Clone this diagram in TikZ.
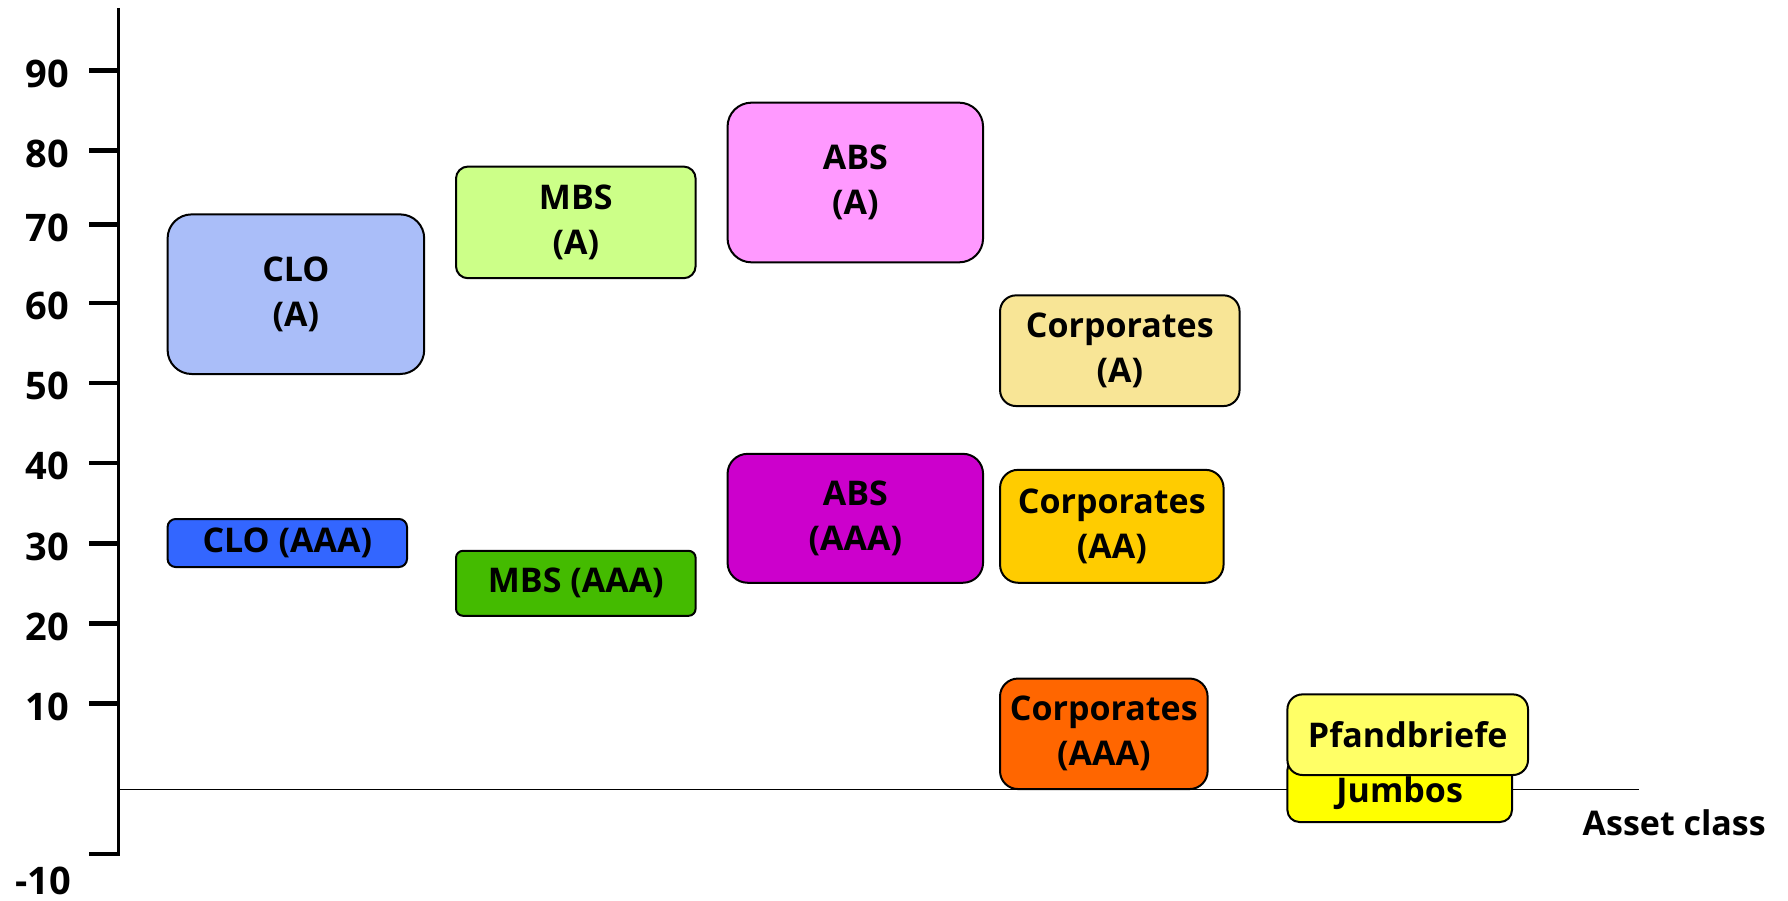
\documentclass[tikz,border=0pt]{standalone}
\usepackage{fontspec}
\setmainfont{Open Sans}
\begin{document}
\begin{tikzpicture}[x=1pt,y=-1pt,
  cls/.style={draw=black, line width=2, inner sep=0pt, align=center,
    font=\fontsize{34}{45}\selectfont\bfseries},
  tick/.style={line width=4.5},
  ylab/.style={anchor=east, inner sep=0pt, font=\fontsize{38}{40}\selectfont\bfseries}]
\useasboundingbox (0,0) rectangle (1788,901);

% axes
\coordinate (top) at (118.6,8);
\coordinate (bot) at (118.6,856);
\coordinate (z0) at (118.6,789.5);
\coordinate (zend) at (1639,789.5);
\draw[line width=1.6] (z0) -- (zend);
\draw[line width=3.2] (top) -- (bot);

% ticks and their values
\foreach \v/\y in {90/70.7, 80/150.5, 70/224.6, 60/303, 50/383, 40/463, 30/543.5, 20/623.5, 10/703.6}{
  \coordinate (t\v) at (118.6,\y);
  \draw[tick] (89,\y) -- (t\v);
  \node[ylab] (l\v) at (69,\y+3) {\v};
}
\coordinate (tm10) at (118.6,854);
\draw[tick] (89,854) -- (tm10);
\node[ylab] (lm10) at (71,881) {-10};

\node[anchor=east, inner sep=0pt, font=\fontsize{34}{36}\selectfont\bfseries] (ac) at (1766,823) {Asset class};

% asset classes
\node[cls, fill={rgb,255:red,170;green,190;blue,249}, rounded corners=24, minimum width=256.6, minimum height=159.6] (cloA) at (295.9,294.2) {CLO\\(A)};
\node[cls, fill={rgb,255:red,51;green,102;blue,255}, rounded corners=8, minimum width=239.4, minimum height=48] (cloAAA) at (287.3,543) {CLO (AAA)};
\node[cls, fill={rgb,255:red,204;green,255;blue,136}, rounded corners=12, minimum width=239.6, minimum height=111.7] (mbsA) at (575.8,222.4) {MBS\\(A)};
\node[cls, fill={rgb,255:red,68;green,187;blue,0}, rounded corners=7, minimum width=239.6, minimum height=65] (mbsAAA) at (575.8,583.3) {MBS (AAA)};
\node[cls, fill={rgb,255:red,255;green,153;blue,255}, rounded corners=24, minimum width=255.5, minimum height=159.7] (absA) at (855.3,182.5) {ABS\\(A)};
\node[cls, fill={rgb,255:red,204;green,0;blue,204}, rounded corners=20, minimum width=255.5, minimum height=128.9] (absAAA) at (855.3,518.3) {ABS\\(AAA)};
\node[cls, fill={rgb,255:red,248;green,229;blue,150}, rounded corners=16, minimum width=239.5, minimum height=110.7] (corpA) at (1119.8,350.7) {Corporates\\(A)};
\node[cls, fill={rgb,255:red,255;green,204;blue,0}, rounded corners=18, minimum width=223.5, minimum height=112.9] (corpAA) at (1111.8,526.3) {Corporates\\(AA)};
\node[cls, fill={rgb,255:red,255;green,102;blue,0}, rounded corners=18, minimum width=207.6, minimum height=110.5] (corpAAA) at (1103.8,733.8) {Corporates\\(AAA)};
\node[cls, fill={rgb,255:red,255;green,255;blue,0}, rounded corners=12, minimum width=224.6, minimum height=64, text depth=0pt] (jumbos) at (1399.7,790) {Jumbos};
\node[cls, fill={rgb,255:red,255;green,255;blue,102}, rounded corners=15, minimum width=240.6, minimum height=80.6] (pfand) at (1407.7,734.7) {Pfandbriefe};
\end{tikzpicture}
\end{document}
